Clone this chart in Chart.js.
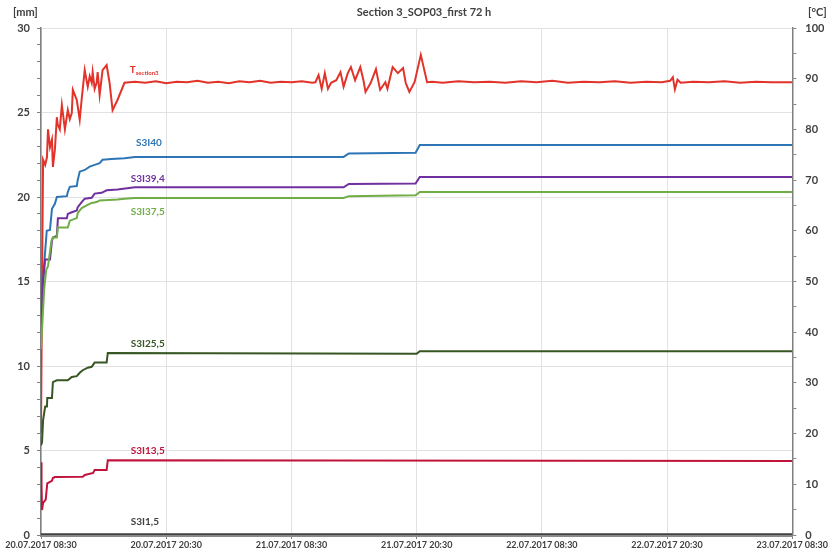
<!DOCTYPE html>
<html>
<head>
<meta charset="utf-8">
<script src="https://cdn.jsdelivr.net/npm/chart.js@4"></script>
<style>
  html, body { margin: 0; padding: 0; background: #fff; }
  #wrap { width: 829px; height: 552px; }
</style>
</head>
<body>
<div id="wrap"><canvas id="chart"></canvas></div>
<script>
// x axis: hours after 20.07.2017 08:30
const xTickLabels = ['20.07.2017 08:30','20.07.2017 20:30','21.07.2017 08:30','21.07.2017 20:30','22.07.2017 08:30','22.07.2017 20:30','23.07.2017 08:30'];

// T section3 [°C] (right axis)
const tempHours = [0,0.1,0.2,0.4,0.57,0.67,0.86,1.05,1.14,1.33,1.52,1.6,1.8,2.0,2.29,2.57,2.76,2.95,3.05,3.43,3.71,3.9,4.19,4.48,4.67,4.86,4.95,5.14,5.33,5.43,5.62,5.9,6.29,6.57,6.86,7.33,8.0,
  9,10,11,12,13,14,15,16,17,18,19,20,21,22,23,24,25,26,
  26.3,26.6,26.9,27.2,27.5,27.8,28.3,28.7,29.0,29.4,29.7,30.1,30.6,30.9,31.1,31.6,32.1,32.5,33.0,33.2,33.7,34.2,34.7,34.95,35.3,35.8,36.4,36.8,37.0,
  37.5,38.5,40,41.5,43,44.5,46,47.5,49,50.5,52,53.5,55,56.5,58,59.5,60.3,60.55,60.75,61.0,61.3,62.5,64,65.5,67,68.5,70,72];
const tempValues = [20,50,74,73,74.5,80,76.5,78,72.6,76,82.4,81,80,84.8,80,83.8,82,83.2,87.8,85.8,81.9,86,91.7,88.4,90.5,89.2,91.3,88,89.2,91.3,86.8,91.7,92.7,89.2,83.8,85.8,89.2,
  89.4,89.2,89.5,89.1,89.4,89.3,89.6,89.2,89.4,89.1,89.5,89.3,89.6,89.2,89.4,89.3,89.5,89.2,
  89.3,90.7,88.0,91.1,88.0,89.2,89.7,91.3,88.4,91.1,92.3,89.7,92.3,89.7,87.4,89.2,91.9,87.8,89.3,88.0,92.3,91.1,92.1,89.2,87.4,89.3,94.7,91.1,89.3,
  89.4,89.2,89.5,89.3,89.4,89.2,89.5,89.3,89.6,89.2,89.4,89.3,89.5,89.2,89.4,89.3,89.6,90.3,87.9,89.8,89.2,89.4,89.3,89.5,89.2,89.4,89.3,89.3];

// displacements [mm] (left axis)
const s40Hours = [0,0.3,0.55,0.86,1.05,1.14,1.33,1.52,2.48,2.57,2.76,3.43,3.52,3.71,4.19,4.67,5.14,5.62,5.9,6.76,8.0,9.0,29.0,29.5,35.9,36.3,72];
const s40Values = [13.0,16.0,18.0,18.05,19.3,19.4,19.6,20.0,20.05,20.3,20.6,20.65,21.0,21.5,21.6,21.8,21.9,22.0,22.2,22.25,22.3,22.37,22.37,22.58,22.62,23.07,23.07];

const s394Hours = [0,0.2,0.4,0.86,1.05,1.14,1.52,1.62,2.48,2.57,2.95,3.43,3.52,3.9,4.19,4.86,5.14,5.81,6.29,7.33,9.0,29.0,29.5,35.9,36.3,72];
const s394Values = [12.0,15.0,16.3,16.3,17.4,17.6,17.7,18.75,18.75,19.0,19.1,19.2,19.4,19.7,19.9,19.95,20.2,20.25,20.4,20.45,20.57,20.57,20.77,20.8,21.18,21.18];

const s375Hours = [0,0.3,0.5,0.67,1.0,1.14,1.52,1.62,2.57,2.76,3.43,3.52,3.9,4.38,4.86,5.33,5.62,7.33,8.0,9.0,29.0,29.5,35.9,36.3,72];
const s375Values = [11.0,14.5,15.7,15.9,17.4,17.6,17.6,18.2,18.2,18.6,18.75,19.05,19.35,19.5,19.65,19.7,19.8,19.85,19.9,19.94,19.94,20.05,20.1,20.3,20.3];

const s255Hours = [0,0.1,0.2,0.4,0.57,0.6,1.05,1.14,1.52,2.57,2.95,3.43,3.71,4.0,4.48,4.86,5.14,6.29,6.4,36.0,36.3,72];
const s255Values = [5.3,5.5,6.8,7.6,7.6,8.1,8.1,9.05,9.15,9.15,9.35,9.4,9.6,9.75,9.9,9.95,10.2,10.2,10.77,10.72,10.88,10.88];

const s135Hours = [0,0.05,0.1,0.2,0.45,0.6,0.86,1.05,1.14,1.33,4.0,4.2,5.0,5.14,6.29,6.4,72];
const s135Values = [4.3,3.0,1.48,1.9,2.1,3.05,3.14,3.2,3.37,3.43,3.45,3.55,3.67,3.85,3.85,4.42,4.38];

const s15Hours = [0,72];
const s15Values = [0.05,0.05];

// label anchors [hour, value]
const seriesLabels = [
  { text: 'S3I40',   h: 9.1, v: 23.2, color: '#2E75B6' },
  { text: 'S3I39,4', h: 8.6, v: 21.1, color: '#7030A0' },
  { text: 'S3I37,5', h: 8.6, v: 19.1, color: '#70AD47' },
  { text: 'S3I25,5', h: 8.6, v: 11.3, color: '#375623' },
  { text: 'S3I13,5', h: 8.6, v: 4.97, color: '#C0143C' },
  { text: 'S3I1,5',  h: 8.6, v: 0.77, color: '#404040' }
];

const pts = (hs, vs) => hs.map((h, i) => ({ x: h, y: vs[i] }));

function line(label, hs, vs, color, axis) {
  return {
    label: label,
    data: pts(hs, vs),
    borderColor: color,
    backgroundColor: color,
    borderWidth: 2,
    pointRadius: 0,
    tension: 0,
    yAxisID: axis
  };
}

const textPlugin = {
  id: 'texts',
  afterDraw(chart) {
    const c = chart.ctx;
    const xs = chart.scales.x;
    c.save();
    c.fillStyle = '#404040';
    c.textBaseline = 'middle';
    c.font = 'bold 11px Lato';
    c.textAlign = 'center';
    c.fillText('Section 3_SOP03_first 72 h', 424, 12);
    c.textAlign = 'left';
    c.fillText('[mm]', 13, 12);
    c.fillText('[°C]', 808, 12);

    c.font = 'bold 10px Lato';
    seriesLabels.forEach(l => {
      c.fillStyle = l.color;
      c.fillText(l.text, xs.getPixelForValue(l.h), chart.scales.y.getPixelForValue(l.v));
    });

    // T with subscript
    const tx = xs.getPixelForValue(8.5);
    const ty = chart.scales.y2.getPixelForValue(91.7);
    c.fillStyle = '#E2332B';
    c.font = 'bold 10px Lato';
    c.fillText('T', tx, ty);
    const w = c.measureText('T').width;
    c.font = 'bold 6px Lato';
    c.fillText('section3', tx + w, ty + 3);
    c.restore();
  }
};

new Chart(document.getElementById('chart'), {
  type: 'line',
  data: {
    datasets: [
      line('S3I1,5', s15Hours, s15Values, '#404040', 'y'),
      line('S3I13,5', s135Hours, s135Values, '#C0143C', 'y'),
      line('S3I25,5', s255Hours, s255Values, '#375623', 'y'),
      line('S3I37,5', s375Hours, s375Values, '#70AD47', 'y'),
      line('S3I39,4', s394Hours, s394Values, '#7030A0', 'y'),
      line('S3I40', s40Hours, s40Values, '#2E75B6', 'y'),
      line('T section3', tempHours, tempValues, '#E2332B', 'y2')
    ]
  },
  options: {
    responsive: true,
    maintainAspectRatio: false,
    animation: false,
    layout: { padding: { top: 28, left: 0, right: 0, bottom: 0 } },
    plugins: { legend: { display: false }, tooltip: { enabled: false }, title: { display: false } },
    scales: {
      x: {
        type: 'linear',
        min: 0, max: 72,
        afterFit(s) { s.height = 17; },
        ticks: {
          stepSize: 12,
          autoSkip: false,
          maxRotation: 0,
          padding: 1,
          color: '#404040',
          font: { family: 'Lato', size: 9, weight: 'bold' },
          callback: v => xTickLabels[v / 12]
        },
        grid: { color: '#e2e2e2', tickColor: '#7f7f7f', tickLength: 4 },
        border: { color: '#8a8a8a', width: 3 }
      },
      y: {
        position: 'left',
        min: 0, max: 30,
        afterFit(s) { s.width = 41; },
        ticks: {
          stepSize: 1,
          autoSkip: false,
          padding: 7,
          color: '#404040',
          font: { family: 'Lato', size: 11, weight: 'bold' },
          callback: v => (v % 5 === 0 ? v : '')
        },
        grid: {
          color: ctx => (ctx.tick && ctx.tick.value % 5 === 0 ? '#e2e2e2' : 'rgba(0,0,0,0)'),
          tickColor: '#7f7f7f',
          tickLength: 4
        },
        border: { color: '#7f7f7f', width: 1.5 }
      },
      y2: {
        position: 'right',
        min: 0, max: 100,
        afterFit(s) { s.width = 32; },
        ticks: {
          stepSize: 5,
          autoSkip: false,
          padding: 9,
          color: '#404040',
          font: { family: 'Lato', size: 11, weight: 'bold' },
          callback: v => (v % 10 === 0 ? v : '')
        },
        grid: { drawOnChartArea: false, tickColor: '#7f7f7f', tickLength: 4 },
        border: { color: '#7f7f7f', width: 1.5 }
      }
    }
  },
  plugins: [textPlugin]
});
</script>
</body>
</html>
